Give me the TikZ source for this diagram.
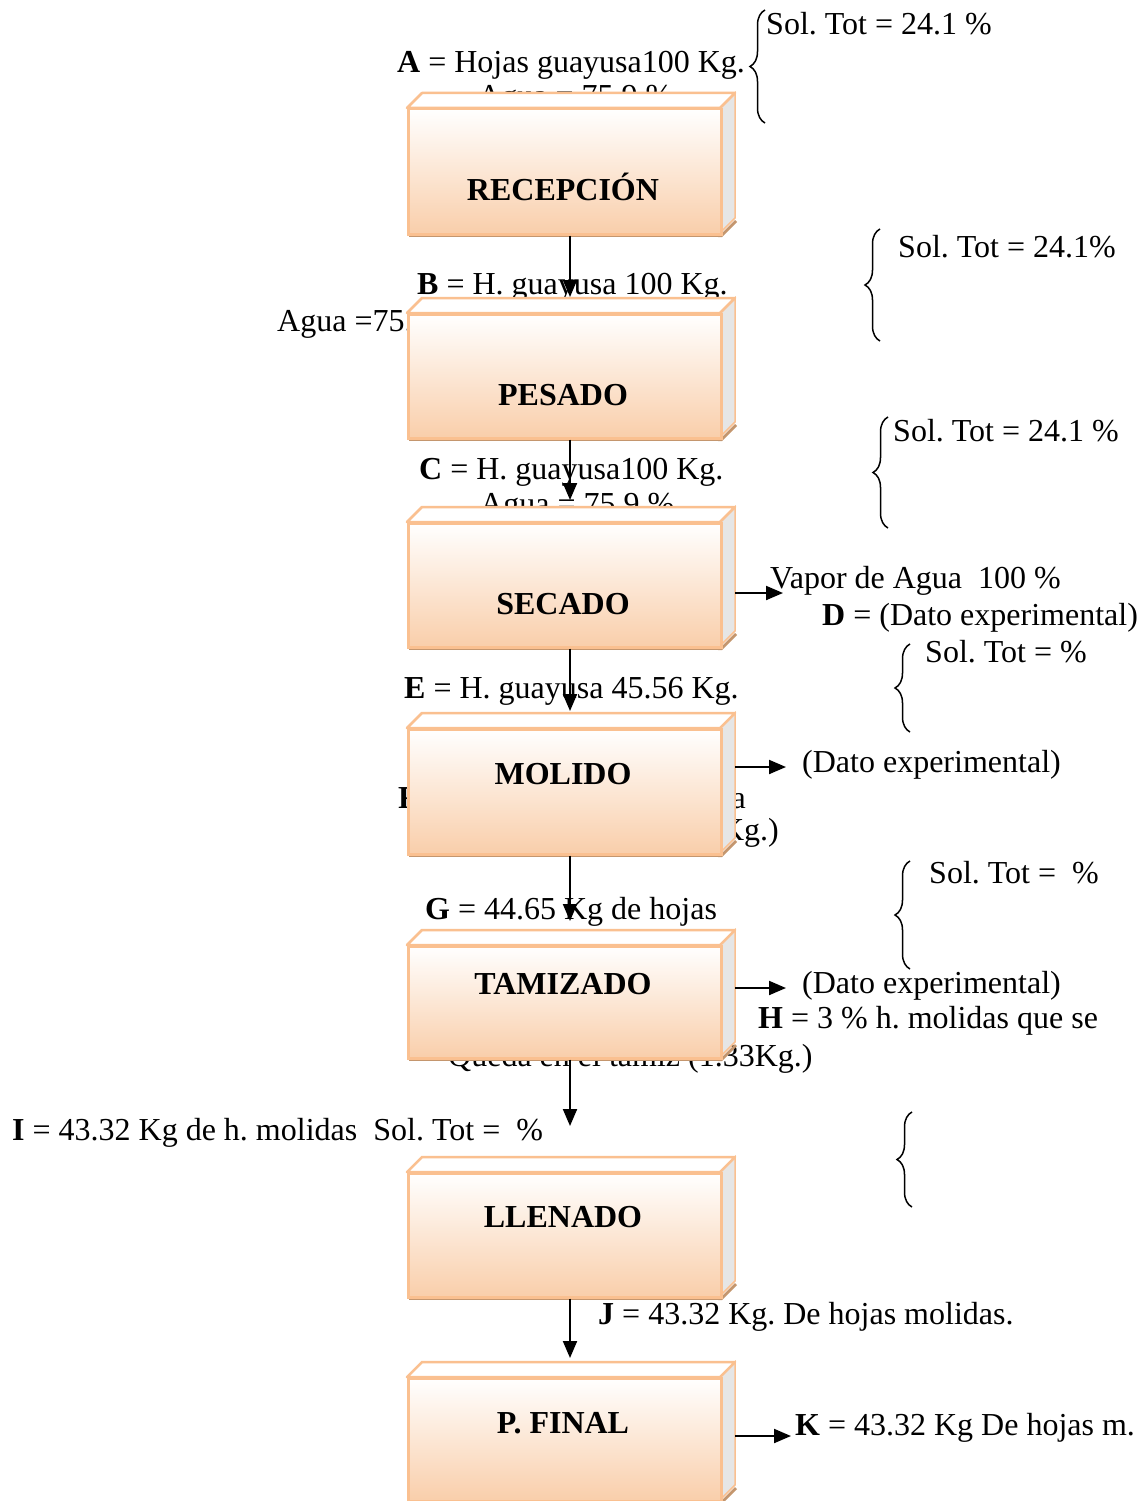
\documentclass[tikz,border=0pt]{standalone}
\usepackage{fontspec}
\setmainfont{Liberation Serif}
\usetikzlibrary{arrows.meta,decorations.pathreplacing}
\definecolor{peach}{RGB}{249,206,170}
\definecolor{boxedge}{RGB}{250,192,144}
\definecolor{sideface}{RGB}{230,230,230}
\definecolor{shadowbrown}{RGB}{196,150,110}
\frenchspacing
\newcommand{\procbox}[5]{%
  \fill[shadowbrown] (409,#3) rectangle (722,{#3+4});
  \fill[shadowbrown] (718,{#3+4}) -- (735,{#3-13}) -- (737,{#3-11}) -- (722,{#3+4}) -- cycle;
  \filldraw[fill=sideface, draw=boxedge, line width=1.5pt] (720,#2) -- (735,{#2-15}) -- (735,{#3-15}) -- (720,#3) -- cycle;
  \filldraw[fill=white, draw=boxedge, line width=2.5pt, line join=round] (407,#2) -- (422,{#2-15}) -- (735,{#2-15}) -- (720,#2) -- cycle;
  \node[front, minimum height={#3-#2}] (#1) at (407,#2) {};
  \coordinate (#1R) at (735,#2);
  \node[lbl] (#1-t) at (563,#5) {#4};
}
\begin{document}
\begin{tikzpicture}[x=1pt,y=-1pt,
  txt/.style={inner sep=0pt, anchor=base west, font=\fontsize{32}{38}\selectfont},
  lbl/.style={inner sep=0pt, anchor=base, font=\fontsize{32}{38}\selectfont\bfseries},
  front/.style={draw=boxedge, line width=2.5pt, top color=white, bottom color=peach,
                minimum width=313pt, anchor=north west, inner sep=0pt},
  arr/.style={line width=2pt, -{Triangle[length=17pt,width=14pt]}},
  brc/.style={decorate, decoration={brace, amplitude=15pt}, line width=1.5pt},
]
\useasboundingbox (0,0) rectangle (1142,1501);
\clip (0,0) rectangle (1142,1501);
\fill[white] (0,0) rectangle (1142,1501);

% texts (drawn first, some are partly hidden by boxes)
\node[txt] (tA) at (397,73) {\textbf{A} = Hojas guayusa100 Kg.};
\node[txt] (tAagua) at (478,107) {Agua = 75.9 \%};
\node[txt] (tAsol) at (766,35) {Sol. Tot = 24.1 \%};
\draw[brc] (765,123) -- (765,10);

\node[txt] (tB) at (417,294) {\textbf{B} = H. guayusa 100 Kg.};
\node[txt] (tBagua) at (277,331) {Agua =75.9 \%};
\node[txt] (tBsol) at (898,257) {Sol. Tot = 24.1\%};
\draw[brc] (880,341) -- (880,229);

\node[txt] (tC) at (419,479) {\textbf{C} = H. guayusa100 Kg.};
\node[txt] (tCagua) at (480,514) {Agua = 75.9 \%};
\node[txt] (tCsol) at (893,441) {Sol. Tot = 24.1 \%};
\draw[brc] (888,528) -- (888,417);

\node[txt] (tD1) at (770,588) {Vapor de Agua\ \ 100 \%};
\node[txt] (tD2) at (822,625) {\textbf{D} = (Dato experimental)};
\node[txt] (tDsol) at (925,662) {Sol. Tot = \%};
\draw[brc] (910,732) -- (910,644);

\node[txt] (tE) at (404,698) {\textbf{E} = H. guayusa 45.56 Kg.};
\node[txt] (tF1) at (398,808) {\textbf{F} = Pérdida en la molienda};
\node[txt, anchor=base east] (tF2) at (779,840) {(0.91Kg.)};
\node[txt] (tMdat) at (802,772) {(Dato experimental)};

\node[txt] (tG) at (425,919) {\textbf{G} = 44.65 Kg de hojas};
\node[txt] (tGsol) at (929,883) {Sol. Tot =\ \ \%};
\draw[brc] (910,969) -- (910,861);
\node[txt] (tTdat) at (802,993) {(Dato experimental)};
\node[txt] (tH1) at (758,1028) {\textbf{H} = 3 \% h. molidas que se};
\node[txt] (tH2) at (448,1066) {Queda en el tamiz (1.33Kg.)};

\node[txt] (tI) at (12,1140) {\textbf{I} = 43.32 Kg de h. molidas\ \ Sol. Tot =\ \ \%};
\draw[brc] (912,1207) -- (912,1112);
\node[txt] (tJ) at (598,1324) {\textbf{J} = 43.32 Kg. De hojas molidas.};
\node[txt] (tK) at (795,1435) {\textbf{K} = 43.32 Kg De hojas m.};

% boxes
\procbox{rec}{108}{233}{RECEPCIÓN}{200}
\procbox{pes}{313}{437}{PESADO}{405}
\procbox{sec}{522}{646}{SECADO}{614}
\procbox{mol}{728}{853}{MOLIDO}{784}
\procbox{tam}{945}{1057}{TAMIZADO}{994}
\procbox{lle}{1172}{1296}{LLENADO}{1227}
\procbox{fin}{1377}{1500}{P. FINAL}{1433}

% vertical connectors
\coordinate (tip1) at (570,297);
\coordinate (tip2) at (570,500);
\coordinate (tip3) at (570,711);
\coordinate (tip4) at (570,921);
\coordinate (tip5) at (570,1126);
\coordinate (tip6) at (570,1358);
\draw[arr] (rec.south -| tip1) -- (tip1);
\draw[arr] (pes.south -| tip2) -- (tip2);
\draw[arr] (sec.south -| tip3) -- (tip3);
\draw[arr] (mol.south -| tip4) -- (tip4);
\draw[arr] (tam.south -| tip5) -- (tip5);
\draw[arr] (lle.south -| tip6) -- (tip6);

% horizontal outputs
\coordinate (outS) at (783,593);
\coordinate (outM) at (786,767);
\coordinate (outT) at (786,988);
\coordinate (outF) at (791,1436);
\draw[arr] (secR |- outS) -- (outS);
\draw[arr] (molR |- outM) -- (outM);
\draw[arr] (tamR |- outT) -- (outT);
\draw[arr] (finR |- outF) -- (outF);
\end{tikzpicture}
\end{document}
